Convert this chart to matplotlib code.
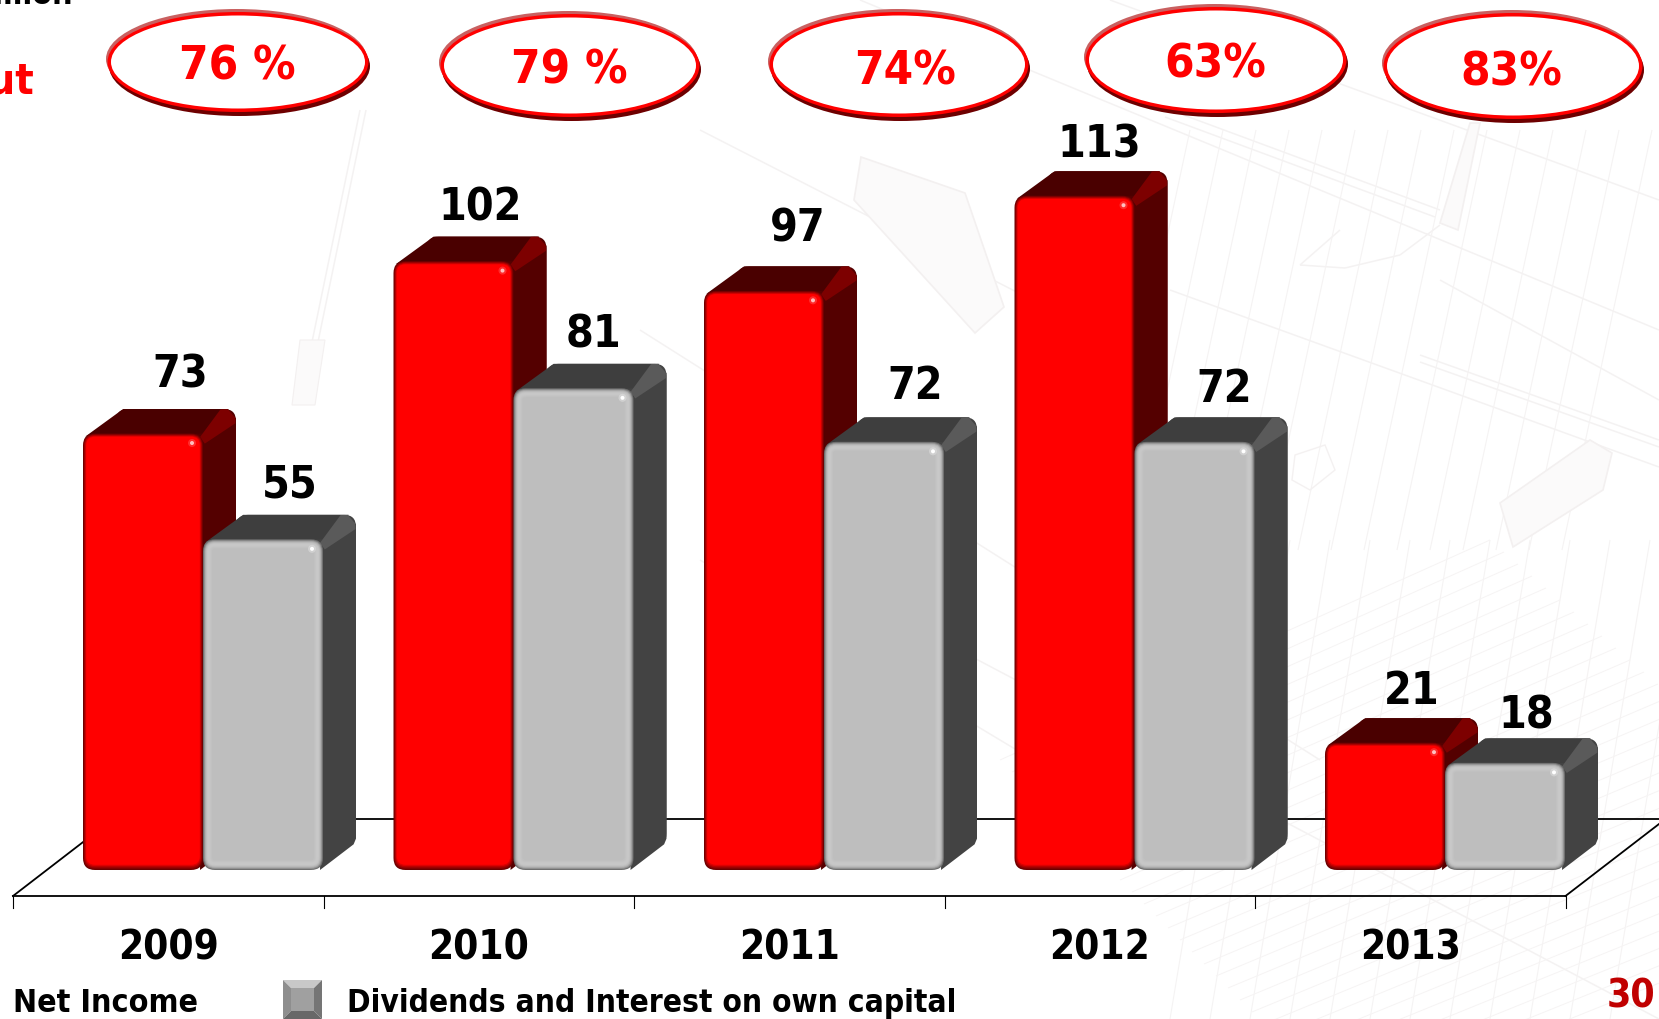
import matplotlib
matplotlib.use('Agg')
import matplotlib.pyplot as plt
from matplotlib.patches import FancyBboxPatch, Polygon, Ellipse
from matplotlib.collections import LineCollection
from matplotlib.colors import to_rgb

years = ['2009', '2010', '2011', '2012', '2013']
net_income = [73, 102, 97, 113, 21]
# heights, the labels show them rounded
dividends = [55.2, 80.6, 71.6, 71.6, 17.6]
payout = ['76 %', '79 %', '74%', '63%', '83%']
legend_labels = ['Net Income', 'Dividends and Interest on own capital']

FONT = dict(family='DejaVu Sans', stretch='condensed', weight='bold')

# one value unit is this many pixels, x uses the same unit
s = 5.945


def fx(p):
    return (p - 13) / s


def fy(p):
    return (869 - p) / s


def mix(a, b, t):
    a, b = to_rgb(a), to_rgb(b)
    return tuple(a[i] + (b[i] - a[i]) * t for i in range(3))


fig = plt.figure(figsize=(16.59, 10.19), dpi=100, facecolor='white')
ax = fig.add_axes([0, 0, 1, 1])
ax.set_xlim(fx(0), fx(1659))
ax.set_ylim(fy(1019), fy(0))
ax.axis('off')


def bg_lines(segs, lw=0.8, color='#f5f3f3'):
    lines = [[(fx(a), fy(b)), (fx(c), fy(d))] for a, b, c, d in segs]
    ax.add_collection(LineCollection(lines, colors=color, linewidths=lw, zorder=0))


def bg_poly(pts, lw=1.2, color='#f3f0f0', fill='#fbfafa'):
    ax.add_patch(Polygon([(fx(a), fy(b)) for a, b in pts], fc=fill, ec=color, lw=lw, zorder=0))


# faint blueprint drawing behind the chart
bg_lines([(1170, 110, 1440, 210), (1165, 117, 1435, 217), (1170, 290, 1659, 467),
          (1440, 280, 1659, 400), (1420, 355, 1659, 440), (1420, 362, 1659, 447),
          (700, 130, 1130, 350), (860, 0, 1659, 330), (1110, 0, 1659, 200),
          (640, 330, 1320, 760), (940, 640, 1659, 1019), (700, 560, 1150, 830),
          (1300, 265, 1345, 268), (1345, 268, 1400, 255), (1400, 255, 1440, 225),
          (1340, 230, 1300, 265), (360, 110, 300, 400), (366, 110, 306, 400)], 1.1, '#f4f2f2')
bg_lines([(1190 + 33 * i, 130, 1100 + 33 * i, 550) for i in range(15)])
bg_lines([(1250 + 40 * i, 540, 1170 + 40 * i, 1019) for i in range(12)])
bg_lines([(1000 + 12 * i, 760 + 12 * i, 1490 + 14 * i, 540 + 12 * i) for i in range(30)], 0.7, '#f6f4f4')
bg_poly([(1470, 123), (1480, 123), (1458, 230), (1440, 223)])
bg_poly([(1500, 503), (1590, 440), (1612, 453), (1603, 490), (1513, 547)])
bg_poly([(861, 157), (965, 193), (1004, 307), (975, 333), (854, 200)])
bg_poly([(300, 340), (325, 340), (315, 405), (292, 405)], 0.8)
bg_poly([(1295, 455), (1325, 445), (1335, 470), (1310, 490), (1292, 480)], 1.0, '#f4f1f1', 'none')

# floor of the chart
step = 310.5 / s
depth_x, depth_y = 33 / s, 24.5 / s
floor_x, floor_y = 100 / s, 77 / s
n = len(years)
ax.plot([0, n * step], [fy(896), fy(896)], color='black', lw=1.3, zorder=1)
ax.plot([floor_x, n * step + floor_x], [fy(896) + floor_y] * 2, color='black', lw=1.3, zorder=1)
ax.plot([0, floor_x], [fy(896), fy(896) + floor_y], color='black', lw=1.3, zorder=1)
ax.plot([n * step, n * step + floor_x], [fy(896), fy(896) + floor_y], color='black', lw=1.3, zorder=1)
for i in range(n + 1):
    ax.plot([i * step] * 2, [fy(896), fy(908)], color='black', lw=0.8, zorder=1)

bar_w = 120 / s
r = 12 / s
lift = 1.5 / s
drop = 1 / s


def rbox(x0, y0, w, h, color, rad, z):
    rad = min(rad, w / 2, h / 2)
    p = FancyBboxPatch((x0 + rad, y0 + rad), max(w - 2 * rad, 0.001), max(h - 2 * rad, 0.001),
                       boxstyle='round,pad=%f,rounding_size=%f' % (rad, rad),
                       fc=color, ec='none', zorder=z)
    ax.add_patch(p)


def bar3d(x0, value, top, side, ridge, layers, side_step, bottom_step, z):
    v = value + lift
    x1 = x0 + bar_w
    # back outline and the two faces
    rbox(x0 + depth_x, depth_y - drop, bar_w, v + drop, side, r, z)
    ax.add_patch(Polygon([(x0 + 0.4, v - 0.5), (x0 + depth_x + 1.2, v + depth_y),
                          (x1 + depth_x - 1.2, v + depth_y), (x1, v)], fc=top, ec='none', zorder=z))
    ax.add_patch(Polygon([(x1 - 0.5, -drop), (x1 + depth_x - 0.4, depth_y - drop + 0.2),
                          (x1 + depth_x, depth_y + 1), (x1 + depth_x, v + depth_y - 1.5),
                          (x1, v)], fc=side, ec='none', zorder=z))
    # lit ridge on the top right edge, wider at the back corner
    ax.add_patch(Polygon([(x1 - 0.5, v - 0.6), (x1 + depth_x - 2.6, v + depth_y - 0.05),
                          (x1 + depth_x - 1.4, v + depth_y), (x1 + depth_x - 0.1, v + depth_y - 1.5),
                          (x1 + depth_x - 0.1, v + depth_y - 2.4), (x1 + 0.3, v - 1.7)],
                         fc=ridge, ec='none', zorder=z))
    # front face as insets, bottom gets the thicker dark edge
    for k, col in enumerate(layers):
        t = k * side_step / s
        b = k * bottom_step / s
        rbox(x0 + t, b - drop, bar_w - 2 * t, v + drop - t - b, col, max(r - t, 0.2), z + 0.01 * (k + 1))


def glint(x, y, fill, core, z):
    ax.add_patch(Ellipse((x, y), 8 / s, 8 / s, fc=fill, ec='none', alpha=0.55, zorder=z))
    ax.add_patch(Ellipse((x, y), 4 / s, 4 / s, fc=core, ec='none', zorder=z + 0.01))


red_layers = [mix('#6a0000', '#ff0000', t / 4) for t in range(5)]
gray_layers = ['#707070', '#949494', '#afafaf', '#bebebe', '#c6c6c6', '#c8c8c8', '#c7c7c7',
               '#c4c4c4', '#c1c1c1', '#bebebe']

for i in range(n):
    x0 = i * step + 70 / s
    x1 = x0 + bar_w
    z = 2 + i
    bar3d(x0, net_income[i], '#4a0000', '#540000', '#7d0000', red_layers, 0.8, 1.3, z)
    glint(x1 - 11 / s, net_income[i] - 8 / s, '#ff5050', '#ffc0c0', z + 0.3)
    bar3d(x1, dividends[i], '#3e3e3e', '#434343', '#5a5a5a', gray_layers, 1.0, 1.1, z + 0.4)
    glint(x1 + bar_w - 11 / s, dividends[i] - 8 / s, '#e0e0e0', '#ffffff', z + 0.7)

# value labels, nudged the way they sit in the slide
red_dx = [37, 27, 34, 25, 27]
red_dy = [60, 55, 63, 52, 53]
gray_dx = [27, 20, 31, 30, 21]
gray_dy = [56, 55, 57, 54, 48]
for i in range(n):
    x0 = i * step + 70 / s
    ax.text(x0 + (60 + red_dx[i]) / s, net_income[i] + red_dy[i] / s, str(net_income[i]),
            ha='center', va='center', fontsize=32, color='black', zorder=20, **FONT)
    ax.text(x0 + (180 + gray_dx[i]) / s, dividends[i] + gray_dy[i] / s, str(round(dividends[i])),
            ha='center', va='center', fontsize=32, color='black', zorder=20, **FONT)
    ax.text((i + 0.5) * step, fy(949), years[i], ha='center', va='center', fontsize=29,
            color='black', zorder=20, **FONT)

# payout ovals
oval_box = [(106, 370, 9, 115), (439, 701, 11, 120), (768, 1030, 9, 120),
            (1084, 1348, 4, 116), (1382, 1644, 10, 122)]
oval_text = [(237, 67), (569, 71), (905, 72), (1215, 65), (1511, 73)]
for i in range(n):
    a, b, c, d = oval_box[i]
    cx, cy = fx((a + b) / 2), fy((c + d) / 2)
    w, h = (b - a - 3) / s, (d - c - 6) / s
    ax.add_patch(Ellipse((cx + 1.5 / s, cy - 4 / s), w, h, fc='#6e0000', ec='none', zorder=15))
    ax.add_patch(Ellipse((cx - 1.5 / s, cy + 3 / s), w, h, fc='#c96060', ec='none', zorder=15.1))
    ax.add_patch(Ellipse((cx, cy), w, h, fc='#ff0000', ec='none', zorder=15.2))
    ax.add_patch(Ellipse((cx, cy), w - 7 / s, h - 7 / s, fc='white', ec='none', zorder=15.3))
    ax.text(fx(oval_text[i][0]), fy(oval_text[i][1]), payout[i], ha='center', va='center',
            fontsize=34, color='#ff0000', zorder=16, **FONT)

# text cut off by the slide crop
ax.text(fx(73), fy(4), 'R$ million', ha='right', va='baseline', fontsize=23, color='black', **FONT)
ax.text(fx(34), fy(94), 'Payout', ha='right', va='baseline', fontsize=31, color='#ff0000', **FONT)

# legend
ax.text(fx(13), fy(1012), legend_labels[0], ha='left', va='baseline', fontsize=23, color='black', zorder=20, **FONT)
ax.text(fx(347), fy(1012), legend_labels[1], ha='left', va='baseline', fontsize=22.7, color='black', zorder=20, **FONT)
a, b, c, d = fx(283), fx(322), fy(1019), fy(980)
ia, ib, ic, id_ = fx(291), fx(314), fy(1011), fy(988)
ax.add_patch(Polygon([(a, d), (b, d), (ib, id_), (ia, id_)], fc='#c8c8c8', ec='none', zorder=5))
ax.add_patch(Polygon([(a, c), (a, d), (ia, id_), (ia, ic)], fc='#8e8e8e', ec='none', zorder=5))
ax.add_patch(Polygon([(b, c), (b, d), (ib, id_), (ib, ic)], fc='#757575', ec='none', zorder=5))
ax.add_patch(Polygon([(a, c), (b, c), (ib, ic), (ia, ic)], fc='#686868', ec='none', zorder=5))
ax.add_patch(Polygon([(ia, ic), (ib, ic), (ib, id_), (ia, id_)], fc='#a0a0a0', ec='none', zorder=5))

ax.text(fx(1655), fy(1008), '30', ha='right', va='baseline', fontsize=28, color='#c00000', zorder=20, **FONT)

fig.savefig('out.png', dpi=100)
